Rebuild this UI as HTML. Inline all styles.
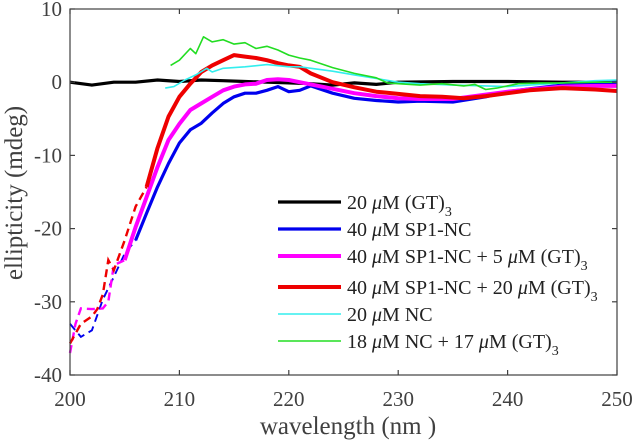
<!DOCTYPE html>
<html><head><meta charset="utf-8"><style>
body{margin:0;background:#fff;}
svg{display:block;font-family:"Liberation Serif",serif;}
</style></head><body>
<svg id="chart" width="633" height="443"></svg>
<script>
const xTicks=[200,210,220,230,240,250];
const yTicks=[10,0,-10,-20,-30,-40];
const seriesNames=["20 μM (GT)3","40 μM SP1-NC","40 μM SP1-NC + 5 μM (GT)3","40 μM SP1-NC + 20 μM (GT)3","20 μM NC","18 μM NC + 17 μM (GT)3"];
const blackW=[200,202,204,206,208,210,212,214,216,218,220,222,224,226,228,230,235,240,245,250];
const blackV=[0,-0.4,0,0,0.3,0.1,0.3,0.2,0.1,0,-0.1,-0.2,-0.4,-0.1,-0.3,0,0.1,0.1,0,0];
const blueW=[200,201,202,203,204,205,206,207,208,209,210,211,212,213,214,215,216,217,218,219,220,221,222,224,226,228,230,232,235,238,240,242,245,248,250];
const blueV=[-33,-34.8,-33.9,-29.7,-26.6,-23.4,-21.6,-17.9,-14.3,-11.1,-8.3,-6.5,-5.6,-4.2,-2.9,-2,-1.5,-1.5,-1.1,-0.6,-1.3,-1.1,-0.5,-1.5,-2.2,-2.5,-2.7,-2.6,-2.7,-2.0,-1.3,-0.9,-0.4,-0.2,0];
const magentaW=[200,200.5,201,202,203,203.5,204,205,206,207,208,209,210,211,212,213,214,215,216,217,218,219,220,221,223,226,228,230,232,235,238,240,242,245,248,250];
const magentaV=[-37,-33,-30.9,-31,-30.9,-30,-25,-24.3,-19.8,-15.7,-11.6,-7.9,-5.7,-3.8,-2.9,-2,-1.1,-0.6,-0.3,-0.2,0.3,0.4,0.3,0,-0.6,-1.5,-1.9,-2.2,-2.3,-2.3,-1.7,-1.3,-1.0,-0.6,-0.5,-0.5];
const redW=[200,201,202,202.5,203,203.5,204,205,206,207,208,209,210,211,212,213,214,215,216,217,218,219,220,221,222,224,226,228,230,232,234,236,238,240,242,245,248,250];
const redV=[-35.7,-33,-32,-31,-29,-24.3,-25.7,-21.6,-17,-14.3,-9,-4.7,-2,-0.2,1.4,2.3,3.0,3.7,3.5,3.3,3.0,2.6,2.3,2.1,1.2,0,-0.7,-1.3,-1.6,-1.9,-2.0,-2.2,-1.9,-1.5,-1.1,-0.8,-1.0,-1.2];
const cyanW=[208.7,209.5,210.5,211.5,212.5,213,214,216,218,220,221,224,226,228,230,232,235,238,240,242,245,248,250];
const cyanV=[-0.8,-0.6,0.3,1.0,1.9,1.4,1.9,2.1,2.4,2.1,2.1,1.5,1.0,0.5,0,-0.2,-0.4,-0.5,-0.6,-0.4,-0.1,0.2,0.3];
const greenW=[209.2,210,211,211.5,212.2,213,214,215,216,217,218,219,220,221,222,224,226,228,229,230,232,234,236,237,238,239,241,243,245,248,250];
const greenV=[2.3,3.0,4.6,3.9,6.2,5.5,5.8,5.2,5.4,4.6,4.9,4.4,3.7,3.3,3.0,2.0,1.2,0.6,-0.1,-0.2,-0.4,-0.2,-0.5,-0.3,-1.0,-0.8,-0.2,-0.1,-0.1,0,0];
const dashUntil=[0,206.4,205.8,207.3,0,0];

const L=70,R=617,T=9,B=375;
const xs=w=>L+(w-200)/(50)*(R-L);
const ys=v=>T+(10-v)/(50)*(B-T);
const svg=document.getElementById('chart');
const NS='http://www.w3.org/2000/svg';
function mk(tag,attrs,parent){const e=document.createElementNS(NS,tag);for(const k in attrs)e.setAttribute(k,attrs[k]);(parent||svg).appendChild(e);return e;}

const series=[[blackW,blackV,'#000000',3.2],[blueW,blueV,'#0000ee',3.2],[magentaW,magentaV,'#ff00ff',4],[redW,redV,'#ee0000',4],[cyanW,cyanV,'#33eeee',1.6],[greenW,greenV,'#22dd22',1.6]];
const plot=mk('g',{});


series.forEach((s,i)=>{
  const [W,V,c,lw]=s;const lim=dashUntil[i];
  let dash=[],sol=[];
  W.forEach((w,j)=>{const p=xs(w).toFixed(1)+','+ys(V[j]).toFixed(1);
    if(w<=lim){dash.push(p);} else {if(sol.length===0&&dash.length)sol.push(dash[dash.length-1]);sol.push(p);}});
  if(dash.length>1){const d=mk('polyline',{points:dash.join(' '),fill:'none',stroke:c,'stroke-width':lw*0.6,'stroke-dasharray':'8,5'},plot);
    
    }
  const l=mk('polyline',{points:sol.join(' '),fill:'none',stroke:c,'stroke-width':lw,'stroke-linejoin':'round'},plot);
  
  
});

const ax=mk('g',{stroke:'#404040','stroke-width':1.2,fill:'none'});


mk('rect',{x:L,y:T,width:R-L,height:B-T},ax);
xTicks.forEach(t=>{const x=xs(t);mk('line',{x1:x,x2:x,y1:B,y2:B-5},ax);mk('line',{x1:x,x2:x,y1:T,y2:T+5},ax);
  const tx=mk('text',{x:x,y:B+31,'text-anchor':'middle','font-size':21,fill:'#404040',stroke:'none'});tx.textContent=t;
  
  });
yTicks.forEach(t=>{const y=ys(t);mk('line',{x1:L,x2:L+5,y1:y,y2:y},ax);mk('line',{x1:R,x2:R-5,y1:y,y2:y},ax);
  const tx=mk('text',{x:L-8,y:y+7,'text-anchor':'end','font-size':21,fill:'#404040',stroke:'none'});tx.textContent=t;
  
  });

const legY=[202,229,256,287,314,341];
const lg=mk('g',{});


series.forEach((s,i)=>{
  const ln=mk('line',{x1:278,x2:341,y1:legY[i],y2:legY[i],stroke:s[2],'stroke-width':s[3]},lg);
  
  
});
const legHTML=[
 '20 <tspan font-style="italic">μ</tspan>M (GT)<tspan font-size="14" dy="7">3</tspan>',
 '40 <tspan font-style="italic">μ</tspan>M SP1-NC',
 '40 <tspan font-style="italic">μ</tspan>M SP1-NC + 5 <tspan font-style="italic">μ</tspan>M (GT)<tspan font-size="14" dy="7">3</tspan>',
 '40 <tspan font-style="italic">μ</tspan>M SP1-NC + 20 <tspan font-style="italic">μ</tspan>M (GT)<tspan font-size="14" dy="7">3</tspan>',
 '20 <tspan font-style="italic">μ</tspan>M NC',
 '18 <tspan font-style="italic">μ</tspan>M NC + 17 <tspan font-style="italic">μ</tspan>M (GT)<tspan font-size="14" dy="7">3</tspan>'];
legHTML.forEach((h,i)=>{const t=mk('text',{x:347,y:legY[i]+7,'font-size':20,fill:'#222'},lg);t.innerHTML=h;
  
  });

const xl=mk('text',{x:348,y:434,'text-anchor':'middle','font-size':25,fill:'#404040'});xl.textContent='wavelength (nm )';


const yl=mk('text',{x:0,y:0,'text-anchor':'middle','font-size':25,fill:'#404040',transform:'translate(22,193) rotate(-90)'});yl.textContent='ellipticity (mdeg)';


</script>
</body></html>
